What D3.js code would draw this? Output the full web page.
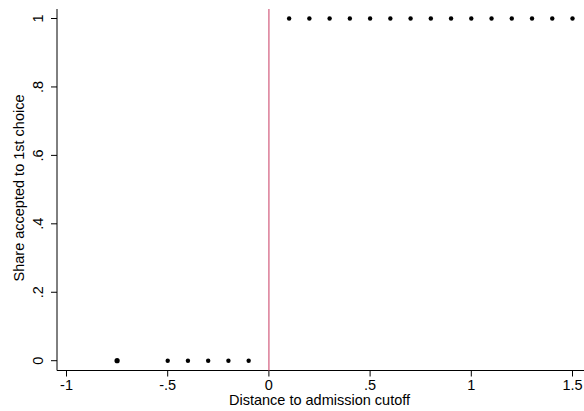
<!DOCTYPE html>
<html><head><meta charset="utf-8">
<script src="https://cdn.jsdelivr.net/npm/d3@7"></script>
<style>body{margin:0;background:#fff}svg{display:block}text{font-family:"Liberation Sans",Arial,sans-serif;fill:#000}</style>
</head><body>
<script>
const xVals = [-0.75, -0.5, -0.4, -0.3, -0.2, -0.1, 0.1, 0.2, 0.3, 0.4, 0.5, 0.6, 0.7, 0.8, 0.9, 1.0, 1.1, 1.2, 1.3, 1.4, 1.5];
const yVals = [0, 0, 0, 0, 0, 0, 1, 1, 1, 1, 1, 1, 1, 1, 1, 1, 1, 1, 1, 1, 1];
const xTicks = [-1, -0.5, 0, 0.5, 1, 1.5];
const xTickLabels = ["-1", "-.5", "0", ".5", "1", "1.5"];
const yTicks = [0, 0.2, 0.4, 0.6, 0.8, 1];
const yTickLabels = ["0", ".2", ".4", ".6", ".8", "1"];
const cutoff = 0;

(function () {
const W = 584, H = 411;
const svg = d3.select("body").append("svg").attr("width", W).attr("height", H);
const x = d3.scaleLinear().domain([-1, 1.5]).range([66.5, 572.5]);
const y = d3.scaleLinear().domain([0, 1]).range([360.7, 18.5]);
const pL = 57, pB = 370.5, pT = 9, pR = 584;
const fs = 14.5;

svg.append("line").attr("x1", pL).attr("x2", pL).attr("y1", pT).attr("y2", pB).attr("stroke", "#000").attr("stroke-width", 1);
svg.append("line").attr("x1", pL).attr("x2", pR).attr("y1", pB).attr("y2", pB).attr("stroke", "#000").attr("stroke-width", 1);

const yg = svg.append("g");
yTicks.forEach((t, i) => {
  yg.append("line").attr("x1", pL - 6).attr("x2", pL).attr("y1", y(t)).attr("y2", y(t)).attr("stroke", "#000");
  yg.append("text").attr("transform", `translate(37.5,${y(t)}) rotate(-90)`)
    .attr("text-anchor", "middle").attr("dy", "0.35em").attr("font-size", fs).text(yTickLabels[i]);
});
const xg = svg.append("g");
xTicks.forEach((t, i) => {
  xg.append("line").attr("x1", x(t)).attr("x2", x(t)).attr("y1", pB).attr("y2", pB + 6).attr("stroke", "#000");
  xg.append("text").attr("x", x(t)).attr("y", 389.5).attr("text-anchor", "middle").attr("font-size", fs).text(xTickLabels[i]);
});

svg.append("text").attr("transform", `translate(19,${188}) rotate(-90)`).attr("text-anchor", "middle")
  .attr("dy", "0.35em").attr("font-size", fs).text("Share accepted to 1st choice");
svg.append("text").attr("x", 319.5).attr("y", 405).attr("text-anchor", "middle").attr("font-size", fs).text("Distance to admission cutoff");

svg.append("line").attr("x1", x(cutoff)).attr("x2", x(cutoff)).attr("y1", pT).attr("y2", pB)
  .attr("stroke", "#d9728f").attr("stroke-width", 1.4);

svg.append("g").selectAll("circle").data(xVals).join("circle")
  .attr("cx", d => x(d)).attr("cy", (d, i) => y(yVals[i])).attr("r", (d, i) => i === 0 ? 2.6 : 2.2).attr("fill", "#000");
})();
</script>
</body></html>
